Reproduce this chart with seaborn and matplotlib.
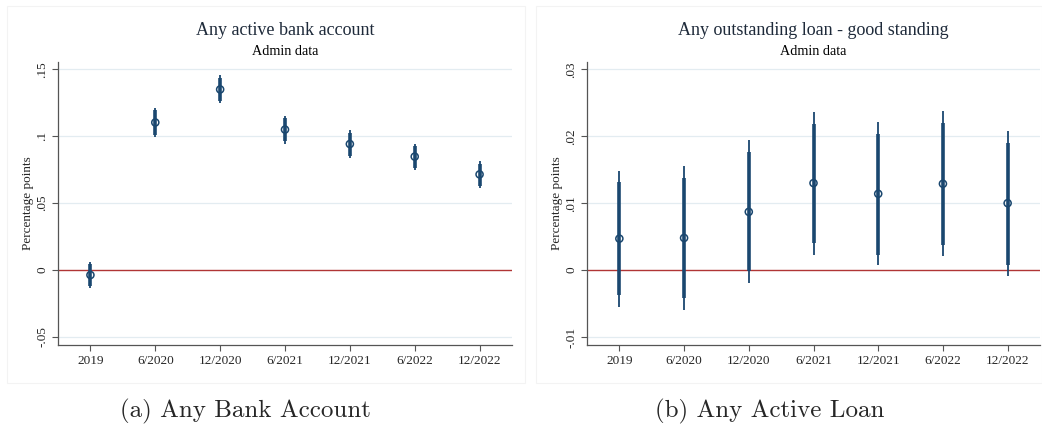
import matplotlib
matplotlib.use("Agg")
import matplotlib.pyplot as plt
import seaborn as sns
import pandas as pd

# survey rounds
periods = ["2019", "6/2020", "12/2020", "6/2021", "12/2021", "6/2022", "12/2022"]

# (a) any active bank account
bank_est = [-0.0037, 0.1103, 0.1350, 0.1050, 0.0942, 0.0848, 0.0715]
bank_lo95 = [-0.0137, 0.0995, 0.1245, 0.0945, 0.0838, 0.0746, 0.0614]
bank_hi95 = [0.0062, 0.1210, 0.1455, 0.1155, 0.1045, 0.0945, 0.0813]
bank_lo90 = [-0.0120, 0.1012, 0.1262, 0.0962, 0.0855, 0.0763, 0.0631]
bank_hi90 = [0.0045, 0.1193, 0.1438, 0.1138, 0.1028, 0.0928, 0.0796]

# (b) any outstanding loan in good standing
loan_est = [0.0047, 0.0048, 0.0087, 0.0130, 0.0114, 0.0129, 0.0100]
loan_lo95 = [-0.0055, -0.0059, -0.0019, 0.0022, 0.0007, 0.0021, -0.0009]
loan_hi95 = [0.0148, 0.0155, 0.0194, 0.0237, 0.0222, 0.0238, 0.0208]
loan_lo90 = [-0.0038, -0.0042, -0.0002, 0.0040, 0.0023, 0.0038, 0.0008]
loan_hi90 = [0.0132, 0.0137, 0.0177, 0.0219, 0.0204, 0.0220, 0.0190]

sns.set_theme(style="white")
plt.rcParams["font.family"] = ["Liberation Serif", "DejaVu Serif"]

navy = "#1a476f"
grid_col = "#e3ecf1"
spine_col = "#555555"

fig = plt.figure(figsize=(10.42, 4.36), dpi=100)


def draw_panel(ax, est, lo95, hi95, lo90, hi90, title, ylim, yticks, ylabels):
    df = pd.DataFrame({"period": periods, "est": est})
    for t in yticks:
        if t != 0:
            ax.axhline(t, color=grid_col, lw=0.9, zorder=0)
    ax.axhline(0, color="#b03535", lw=1.0, zorder=1)
    ax.vlines(periods, lo95, hi95, color=navy, lw=1.3, zorder=2)
    ax.vlines(periods, lo90, hi90, color=navy, lw=2.6, zorder=3)
    sns.scatterplot(data=df, x="period", y="est", ax=ax, marker="o", s=26,
                    facecolor="none", edgecolor=navy, linewidth=1.1, zorder=4)
    ax.set_xlim(-0.5, 6.5)
    ax.set_ylim(*ylim)
    ax.set_yticks(yticks)
    ax.set_yticklabels(ylabels, rotation=90, va="center")
    ax.set_xlabel("")
    ax.set_ylabel("Percentage points", fontsize=9.5)
    ax.yaxis.set_label_coords(-0.052, 0.5)
    ax.tick_params(axis="both", which="both", direction="out", length=4, width=0.8,
                   color=spine_col, labelsize=9.5, pad=3, left=True, bottom=True)
    for s in ["top", "right"]:
        ax.spines[s].set_visible(False)
    for s in ["left", "bottom"]:
        ax.spines[s].set_color(spine_col)
        ax.spines[s].set_linewidth(0.9)
    ax.text(0.5, 1.11, title, transform=ax.transAxes, ha="center", va="center",
            fontsize=13, color="#1e2a3a")
    ax.text(0.5, 1.036, "Admin data", transform=ax.transAxes, ha="center",
            va="center", fontsize=10.2, color="black")


# faint panel frames
for x0, x1 in [(7, 525.5), (535.5, 1042)]:
    fig.patches.append(plt.Rectangle((x0 / 1042, 1 - 383 / 436), (x1 - x0) / 1042,
                                     (383 - 6) / 436, transform=fig.transFigure,
                                     fill=False, edgecolor="#f3f3f3", lw=0.8))

ax1 = fig.add_axes([58 / 1042, 1 - 345 / 436, 454 / 1042, 283 / 436])
draw_panel(ax1, bank_est, bank_lo95, bank_hi95, bank_lo90, bank_hi90,
           "Any active bank account", (-0.056, 0.1555),
           [-0.05, 0, 0.05, 0.1, 0.15], ["-.05", "0", ".05", ".1", ".15"])

ax2 = fig.add_axes([587 / 1042, 1 - 345 / 436, 453 / 1042, 283 / 436])
draw_panel(ax2, loan_est, loan_lo95, loan_hi95, loan_lo90, loan_hi90,
           "Any outstanding loan - good standing", (-0.0112, 0.0311),
           [-0.01, 0, 0.01, 0.02, 0.03], ["-.01", "0", ".01", ".02", ".03"])

# LaTeX-style sub-captions
fig.text(245 / 1042, 1 - 411 / 436, "(a) Any Bank Account", ha="center", va="center",
         fontsize=18, family=["cmr10", "DejaVu Serif"])
fig.text(770 / 1042, 1 - 411 / 436, "(b) Any Active Loan", ha="center", va="center",
         fontsize=18, family=["cmr10", "DejaVu Serif"])

fig.savefig("out.png", dpi=100)
